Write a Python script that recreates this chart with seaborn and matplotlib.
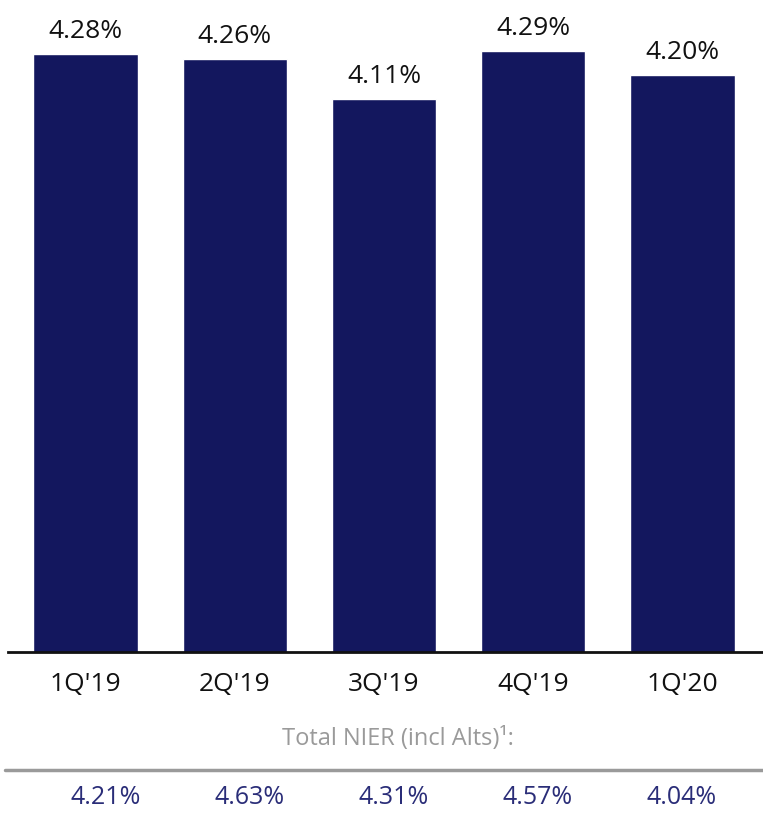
import matplotlib
matplotlib.use("Agg")
import matplotlib.pyplot as plt
import seaborn as sns
import pandas as pd

quarters = ["1Q'19", "2Q'19", "3Q'19", "4Q'19", "1Q'20"]
nim = [4.28, 4.26, 4.11, 4.29, 4.20]
nier_total = [4.21, 4.63, 4.31, 4.57, 4.04]

df = pd.DataFrame({"quarter": quarters, "nim": nim})

sns.set_style("white")
plt.rcParams["font.family"] = ["Open Sans", "DejaVu Sans"]

navy = "#13175E"
fig = plt.figure(figsize=(7.63, 8.28), dpi=100)
ax = fig.add_axes([8 / 763, 1 - 653 / 828, 755 / 763, 653 / 828])

sns.barplot(data=df, x="quarter", y="nim", color=navy, width=0.70,
            saturation=1, ax=ax)

ax.set_ylim(2.03, 4.485)
ax.set_xlim(-0.52, 4.54)
for i, v in enumerate(nim):
    ax.annotate(f"{v:.2f}%", (i, v), xytext=(0, 12), textcoords="offset points",
                ha="center", va="baseline", fontsize=19, color="#111111")

for s in ["top", "right", "left"]:
    ax.spines[s].set_visible(False)
ax.spines["bottom"].set_linewidth(2)
ax.spines["bottom"].set_color("#111111")
ax.set_yticks([])
ax.set_xlabel("")
ax.set_ylabel("")
ax.tick_params(axis="x", length=0, pad=14, labelsize=19, labelcolor="#111111")

# footer: total NIER row
fig.text(398 / 763, 1 - 739 / 828, "Total NIER (incl Alts)¹:",
         ha="center", va="center", fontsize=17, color="#9a9a9a")
fig.add_artist(plt.Line2D([5 / 763, 1.0], [1 - 771 / 828, 1 - 771 / 828],
                          color="#9a9a9a", linewidth=2.5,
                          transform=fig.transFigure))
for i, v in enumerate(nier_total):
    fig.text((106 + 144 * i) / 763, 1 - 798 / 828, f"{v:.2f}%", ha="center",
             va="center", fontsize=18, color="#2a2d78")

fig.savefig("out.png", dpi=100)
